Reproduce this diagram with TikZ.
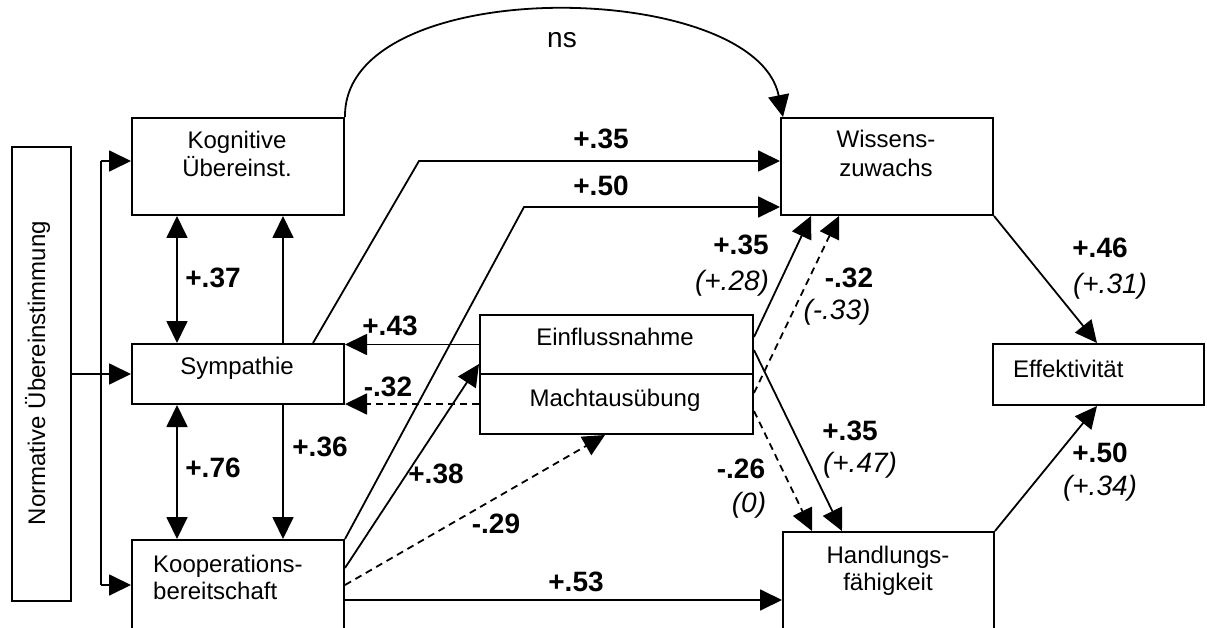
\documentclass[tikz,border=0pt]{standalone}
\usepackage{fontspec}
\setmainfont{Liberation Sans}
\usetikzlibrary{arrows.meta,calc}
\begin{document}
\begin{tikzpicture}[x=1pt,y=-1pt,
  box/.style={draw, line width=2pt, inner sep=0pt, anchor=north west},
  ln/.style={line width=1.8pt},
  arr/.style={ln, -{Triangle[length=22pt 0 0,width=21pt 0 0]}},
  darr/.style={ln, {Triangle[length=22pt 0 0,width=21pt 0 0]}-{Triangle[length=22pt 0 0,width=21pt 0 0]}},
  dsh/.style={dash pattern=on 7pt off 5pt},
  txt/.style={font=\fontsize{24}{28}\selectfont, inner sep=0pt},
  coef/.style={font=\fontsize{28}{32}\selectfont\bfseries, inner sep=0pt},
  alt/.style={font=\fontsize{28}{32}\selectfont\itshape, inner sep=0pt},
  plain/.style={font=\fontsize{28}{32}\selectfont, inner sep=0pt}
]
\clip (0,0) rectangle (1207,628);
\fill[white] (0,0) rectangle (1207,628);

% boxes
\node[box, minimum width=59pt,  minimum height=454pt] (norm) at (11,146) {};
\node[box, minimum width=212pt, minimum height=97pt]  (kog)  at (131,117) {};
\node[box, minimum width=212pt, minimum height=60pt]  (sym)  at (131,343) {};
\node[box, minimum width=212pt, minimum height=110pt] (koop) at (131,539) {};
\node[box, minimum width=212pt, minimum height=97pt]  (wis)  at (780,117) {};
\node[box, minimum width=273pt, minimum height=59pt]  (ein)  at (479,314) {};
\node[box, minimum width=273pt, minimum height=60pt]  (macht) at (479,373) {};
\node[box, minimum width=211pt, minimum height=61pt]  (eff)  at (992,343) {};
\node[box, minimum width=211pt, minimum height=110pt] (hand) at (782,531) {};

% box texts
\node[txt, rotate=90, anchor=base] (tnorm) at (45,373) {Normative Übereinstimmung};
\node[txt, anchor=base] (tkog1) at (237,149) {Kognitive};
\node[txt, anchor=base] (tkog2) at (237,177) {Übereinst.};
\node[txt, anchor=base] (tsym) at (237,374) {Sympathie};
\node[txt, anchor=base west] (tkoop1) at (153,572) {Kooperations-};
\node[txt, anchor=base west] (tkoop2) at (153,599) {bereitschaft};
\node[txt, anchor=base] (twis1) at (886,148) {Wissens-};
\node[txt, anchor=base] (twis2) at (886,177) {zuwachs};
\node[txt, anchor=base] (tein) at (615,345) {Einflussnahme};
\node[txt, anchor=base] (tmacht) at (615,406) {Machtausübung};
\node[txt, anchor=base west] (teff) at (1013,377) {Effektivität};
\node[txt, anchor=base] (thand1) at (888,563) {Handlungs-};
\node[txt, anchor=base] (thand2) at (888,590) {fähigkeit};

% connectors from the normative box
\coordinate (bt) at (101,161);
\coordinate (bb) at (101,585);
\draw[ln] (bb) -- (bt);
\draw[arr] (bt) -- (bt -| kog.west);
\draw[arr] (bb) -- (bb -| koop.west);
\draw[arr] (norm.east) -- (norm.east -| sym.west);

% left column
\draw[darr] ([xshift=46pt]kog.south west) -- ([xshift=46pt]sym.north west);
\draw[arr] ([xshift=152pt]sym.north west) -- ([xshift=152pt]kog.south west);
\draw[darr] ([xshift=46pt]sym.south west) -- ([xshift=46pt]koop.north west);
\draw[arr] ([xshift=152pt]sym.south west) -- ([xshift=152pt]koop.north west);

% to Wissenszuwachs
\coordinate (k35) at (419,161);
\draw[arr] ([xshift=182pt]sym.north west) -- (k35) -- (k35 -| wis.west);
\coordinate (k50) at (524,207);
\draw[arr] (koop.north east) -- (k50) -- (k50 -| wis.west);
\draw[arr] (kog.north east) .. controls (343,-28) and (755,-22) .. ([xshift=3pt]wis.north west);

% Kooperation out
\draw[arr] ([yshift=-29pt]koop.north east) -- ([yshift=11pt]ein.south west);
\draw[arr,dsh] ([yshift=-46pt]koop.north east) -- ([xshift=126pt]macht.south west);
\coordinate (k53) at ([yshift=-61pt]koop.north east);
\draw[arr] (k53) -- (k53 -| hand.west);

% Einfluss / Macht out
\draw[arr] (ein.west) -- (ein.west -| sym.east);
\draw[arr,dsh] (macht.west) -- (macht.west -| sym.east);
\draw[arr] ([yshift=-23pt]ein.north east) -- ([xshift=31pt]wis.south west);
\draw[arr,dsh] ([yshift=-20pt]macht.north east) -- ([xshift=59pt]wis.south west);
\draw[arr] ([yshift=-36pt]ein.north east) -- ([xshift=60pt]hand.north west);
\draw[arr,dsh] ([yshift=-38pt]macht.north east) -- ([xshift=30pt]hand.north west);

% to Effektivitaet
\draw[arr] (wis.south east) -- ([xshift=105pt]eff.north west);
\draw[arr] (hand.north east) -- ([xshift=105pt]eff.south west);

% labels
\node[plain] (lns) at (562,40) {ns};
\node[coef] (l37) at (213,278) {+.37};
\node[coef] (l76) at (213,468) {+.76};
\node[coef] (l36) at (320,447) {+.36};
\node[coef] (l43) at (390,326) {+.43};
\node[coef] (lm32a) at (388,387) {-.32};
\node[coef] (l35a) at (601,139) {+.35};
\node[coef] (l50a) at (601,186) {+.50};
\node[coef] (l35b) at (741,245) {+.35};
\node[alt]  (l28) at (732,283) {(+.28)};
\node[coef] (lm32b) at (849,278) {-.32};
\node[alt]  (lm33) at (837,312) {(-.33)};
\node[coef] (l35c) at (850,431) {+.35};
\node[alt]  (l47) at (860,465) {(+.47)};
\node[coef] (lm26) at (741,469) {-.26};
\node[alt]  (l0) at (749,505) {(0)};
\node[coef] (lm29) at (496,524) {-.29};
\node[coef] (l38) at (436,474) {+.38};
\node[coef] (l53) at (576,582) {+.53};
\node[coef] (l46) at (1100,248) {+.46};
\node[alt]  (l31) at (1110,286) {(+.31)};
\node[coef] (l50b) at (1100,453) {+.50};
\node[alt]  (l34) at (1100,488) {(+.34)};
\end{tikzpicture}
\end{document}
